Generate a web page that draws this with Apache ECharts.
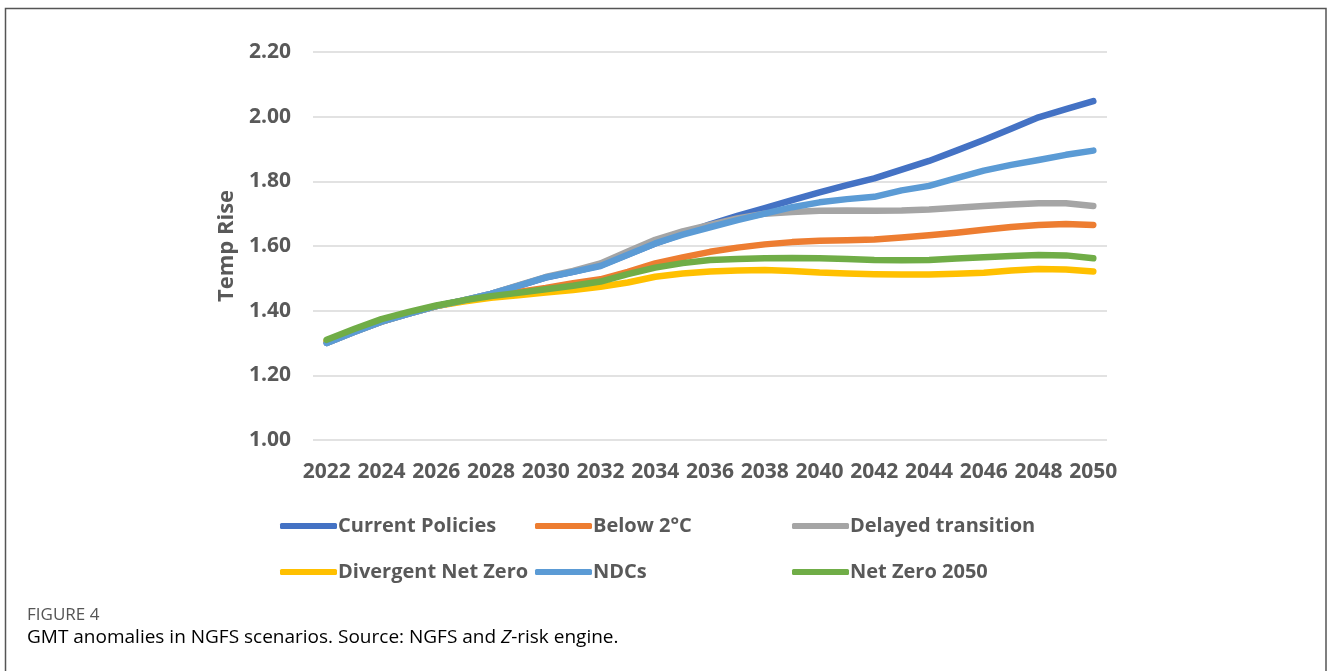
<!DOCTYPE html>
<html>
<head>
<meta charset="utf-8">
<script src="https://cdn.jsdelivr.net/npm/echarts@6/dist/echarts.min.js"></script>
<style>
html,body{margin:0;padding:0;background:#fff;}
#c{width:1328px;height:671px;}
</style>
</head>
<body>
<div id="c"></div>
<script>
const years = ['2022','2023','2024','2025','2026','2027','2028','2029','2030','2031','2032','2033','2034','2035','2036','2037','2038','2039','2040','2041','2042','2043','2044','2045','2046','2047','2048','2049','2050'];
const yTicks = [1.0, 1.2, 1.4, 1.6, 1.8, 2.0, 2.2];
const currentPolicies = [1.300,1.334,1.366,1.391,1.414,1.432,1.452,1.477,1.502,1.520,1.540,1.574,1.608,1.637,1.667,1.693,1.717,1.742,1.766,1.788,1.809,1.836,1.863,1.895,1.928,1.963,1.998,2.023,2.048];
const below2C = [1.305,1.336,1.366,1.392,1.414,1.431,1.446,1.458,1.470,1.485,1.497,1.520,1.546,1.565,1.582,1.595,1.605,1.612,1.616,1.618,1.620,1.626,1.633,1.641,1.650,1.659,1.665,1.668,1.665];
const delayedTransition = [1.300,1.334,1.366,1.391,1.414,1.432,1.452,1.478,1.504,1.523,1.546,1.583,1.619,1.645,1.665,1.685,1.700,1.705,1.709,1.710,1.709,1.710,1.713,1.718,1.724,1.728,1.732,1.732,1.724];
const divergentNetZero = [1.305,1.337,1.368,1.393,1.414,1.428,1.440,1.448,1.456,1.464,1.474,1.487,1.505,1.515,1.521,1.524,1.526,1.523,1.518,1.515,1.513,1.512,1.512,1.514,1.517,1.524,1.529,1.527,1.521];
const ndcs = [1.300,1.334,1.366,1.391,1.414,1.432,1.452,1.477,1.503,1.520,1.538,1.573,1.608,1.635,1.658,1.680,1.700,1.720,1.735,1.745,1.752,1.772,1.786,1.810,1.833,1.851,1.866,1.882,1.895];
const netZero2050 = [1.310,1.343,1.374,1.396,1.416,1.432,1.445,1.455,1.466,1.477,1.490,1.513,1.533,1.547,1.557,1.560,1.562,1.563,1.562,1.560,1.557,1.556,1.557,1.561,1.565,1.569,1.572,1.571,1.562];
const names = ['Current Policies','Below 2°C','Delayed transition','Divergent Net Zero','NDCs','Net Zero 2050'];
const colors = ['#4472C4','#ED7D31','#A5A5A5','#FFC000','#5B9BD5','#70AD47'];
const values = [currentPolicies, below2C, delayedTransition, divergentNetZero, ndcs, netZero2050];

const chart = echarts.init(document.getElementById('c'));
const axisFont = {fontFamily:'Open Sans', fontWeight:'bold', color:'#595959'};
const legendBase = {
  orient:'vertical', top:509, itemWidth:57, itemHeight:6, itemGap:22, icon:'roundRect',
  textStyle:{fontFamily:'Open Sans', fontWeight:'bold', fontSize:20, color:'#595959', lineHeight:24, padding:[0,0,0,-4]},
  selectedMode:false
};
chart.setOption({
  animation:false,
  backgroundColor:'#fff',
  grid:{left:313, right:221, top:52, bottom:231},
  xAxis:{
    type:'category', data:years, boundaryGap:true,
    axisLine:{show:false}, axisTick:{show:false},
    axisLabel:Object.assign({interval:1, fontSize:21, margin:22}, axisFont)
  },
  yAxis:{
    type:'value', min:yTicks[0], max:yTicks[yTicks.length-1], interval:0.2,
    name:'Temp Rise', nameLocation:'middle', nameGap:75, nameRotate:90,
    nameTextStyle:Object.assign({fontSize:22}, axisFont),
    axisLine:{show:false}, axisTick:{show:false},
    splitLine:{lineStyle:{color:'#D9D9D9', width:1.5}},
    axisLabel:Object.assign({fontSize:21, margin:22, formatter:v=>v.toFixed(2)}, axisFont)
  },
  legend:[
    Object.assign({left:275, data:[names[0], names[3]]}, legendBase),
    Object.assign({left:530, data:[names[1], names[4]]}, legendBase),
    Object.assign({left:787, data:[names[2], names[5]]}, legendBase)
  ],
  series: names.map((n,i)=>({
    name:n, type:'line', data:values[i], showSymbol:false, symbol:'none',
    lineStyle:{color:colors[i], width:6.5, cap:'round', join:'round'},
    itemStyle:{color:colors[i]}
  })),
  graphic:[
    {type:'rect', shape:{x:5.5, y:8.5, width:1320.5, height:700}, style:{fill:'none', stroke:'#555', lineWidth:1.5}, silent:true},
    {type:'text', left:27, top:607, style:{text:'FIGURE 4', font:'17px "Open Sans"', fill:'#555'}},
    {type:'text', left:27, top:628, style:{
      text:'{n|GMT anomalies in NGFS scenarios. Source: NGFS and }{i|Z}{n|-risk engine.}',
      rich:{
        n:{fontFamily:'Open Sans', fontSize:19, color:'#606060'},
        i:{fontFamily:'Open Sans', fontSize:19, fontStyle:'italic', color:'#606060'}
      }
    }}
  ]
});
</script>
</body>
</html>
